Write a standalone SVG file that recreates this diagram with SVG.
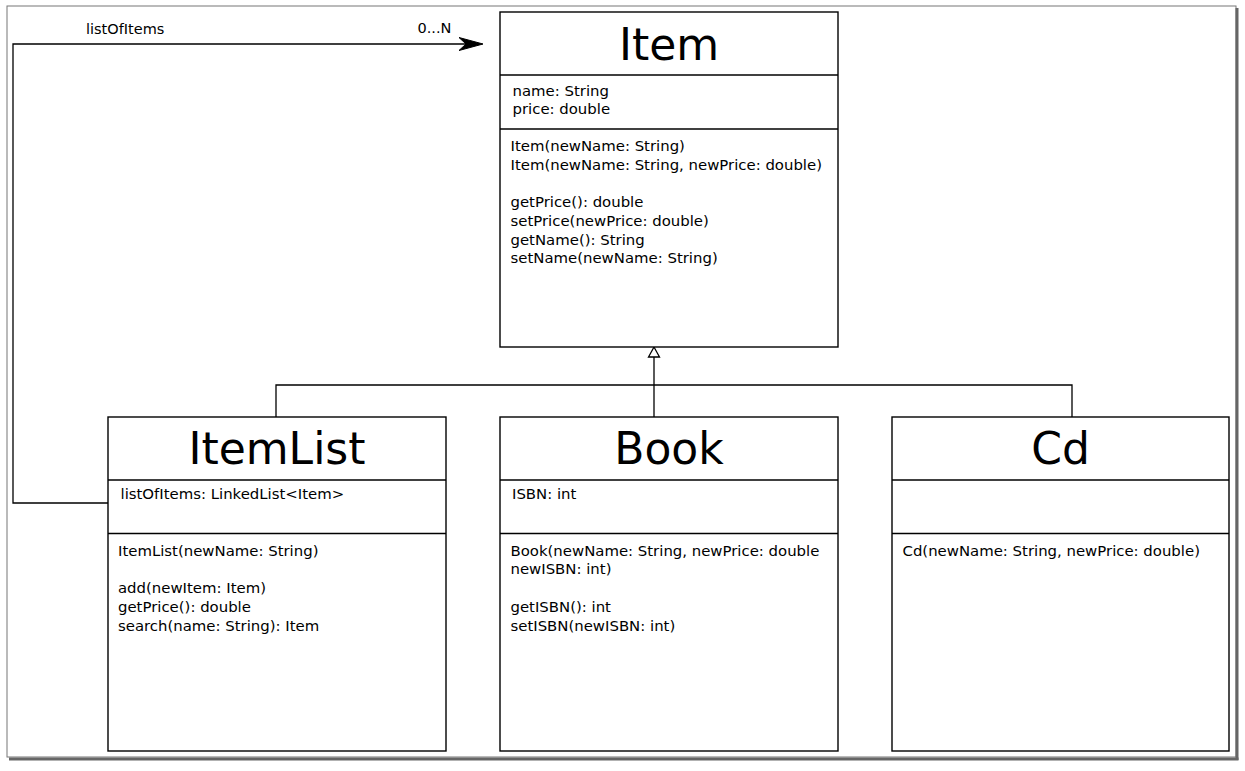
<svg xmlns="http://www.w3.org/2000/svg" width="1245" height="771" viewBox="0 0 1245 771">
<style>
.box{fill:#fff;stroke:#000;stroke-width:1.4}
.div{stroke:#000;stroke-width:1.4}
.title{font-family:"DejaVu Sans",sans-serif;font-size:44px;fill:#000;text-anchor:middle}
.txt{font-family:"DejaVu Sans",sans-serif;font-size:14.9px;fill:#000}
.lbl{font-family:"DejaVu Sans",sans-serif;font-size:14.5px;fill:#000}
.con{fill:none;stroke:#000;stroke-width:1.3}
</style>
<rect width="1245" height="771" fill="#fff"/>
<g id="frame">
<rect x="7" y="6" width="1229" height="751" fill="none" stroke="#777" stroke-width="1"/>
<line x1="1237" y1="8" x2="1237" y2="760" stroke="#666" stroke-width="3"/>
<line x1="9" y1="759" x2="1238.5" y2="759" stroke="#666" stroke-width="3"/>
</g>
<g id="connectors">
<polyline class="con" points="108,503 13,503 13,44 467,44"/>
<path d="M483,44 L459,37.5 L466,44 L459,50.5 Z" fill="#000" stroke="#000" stroke-width="1"/>
<text class="lbl" x="86" y="33.5">listOfItems</text>
<text class="lbl" x="417.5" y="33">0...N</text>
<polyline class="con" points="276,417 276,385 1072,385 1072,417"/>
<line class="con" x1="654" y1="417" x2="654" y2="357"/>
<path d="M654,347 L648.5,357 L659.5,357 Z" fill="#fff" stroke="#000" stroke-width="1.3"/>
</g>
<g id="Item">
<rect class="box" x="500" y="12" width="338" height="335"/>
<line class="div" x1="500" y1="75" x2="838" y2="75"/>
<line class="div" x1="500" y1="129" x2="838" y2="129"/>
<text class="title" x="669" y="60">Item</text>
<text class="txt" x="512.5" y="95.5">name: String</text>
<text class="txt" x="512.5" y="114">price: double</text>
<text class="txt" x="510.5" y="151">Item(newName: String)</text>
<text class="txt" x="510.5" y="169.7">Item(newName: String, newPrice: double)</text>
<text class="txt" x="510.5" y="207.1">getPrice(): double</text>
<text class="txt" x="510.5" y="225.8">setPrice(newPrice: double)</text>
<text class="txt" x="510.5" y="244.5">getName(): String</text>
<text class="txt" x="510.5" y="263.2">setName(newName: String)</text>
</g>
<g id="ItemList">
<rect class="box" x="108" y="417" width="338" height="334"/>
<line class="div" x1="108" y1="480" x2="446" y2="480"/>
<line class="div" x1="108" y1="533.5" x2="446" y2="533.5"/>
<text class="title" x="277" y="464">ItemList</text>
<text class="txt" x="120.5" y="499.3">listOfItems: LinkedList&lt;Item&gt;</text>
<text class="txt" x="118" y="555.7">ItemList(newName: String)</text>
<text class="txt" x="118" y="593.1">add(newItem: Item)</text>
<text class="txt" x="118" y="611.8">getPrice(): double</text>
<text class="txt" x="118" y="630.5">search(name: String): Item</text>
</g>
<g id="Book">
<rect class="box" x="500" y="417" width="338" height="334"/>
<line class="div" x1="500" y1="480" x2="838" y2="480"/>
<line class="div" x1="500" y1="533.5" x2="838" y2="533.5"/>
<text class="title" x="669" y="464">Book</text>
<text class="txt" x="512" y="499.3">ISBN: int</text>
<text class="txt" x="510.5" y="555.7">Book(newName: String, newPrice: double</text>
<text class="txt" x="510.5" y="574.4">newISBN: int)</text>
<text class="txt" x="510.5" y="611.8">getISBN(): int</text>
<text class="txt" x="510.5" y="630.5">setISBN(newISBN: int)</text>
</g>
<g id="Cd">
<rect class="box" x="892" y="417" width="337" height="334"/>
<line class="div" x1="892" y1="480" x2="1229" y2="480"/>
<line class="div" x1="892" y1="533.5" x2="1229" y2="533.5"/>
<text class="title" x="1060.5" y="464">Cd</text>
<text class="txt" x="902.5" y="555.7">Cd(newName: String, newPrice: double)</text>
</g>
</svg>
